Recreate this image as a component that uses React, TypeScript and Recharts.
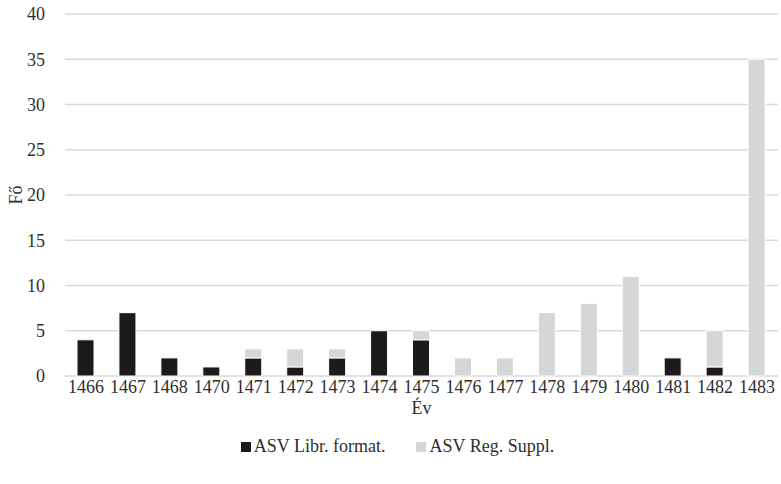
import { Bar, BarChart, CartesianGrid, Legend, XAxis, YAxis } from 'recharts'

const years = ['1466', '1467', '1468', '1470', '1471', '1472', '1473', '1474', '1475', '1476', '1477', '1478', '1479', '1480', '1481', '1482', '1483']
const librFormat = [4, 7, 2, 1, 2, 1, 2, 5, 4, 0, 0, 0, 0, 0, 2, 1, 0]
const regSuppl = [0, 0, 0, 0, 1, 2, 1, 0, 1, 2, 2, 7, 8, 11, 0, 4, 35]
const yTicks = [0, 5, 10, 15, 20, 25, 30, 35, 40]
const seriesNames = ['ASV Libr. format.', 'ASV Reg. Suppl.']
const seriesColors = ['#1c1a1a', '#d5d6d7']

const data = years.map((y, i) => ({ year: y, libr: librFormat[i], reg: regSuppl[i] }))

const FONT = '"Liberation Serif", "Times New Roman", serif'
const TEXT = '#2e2e2e'
const FS = 18

function LegendRow() {
  return (
    <div style={{ display: 'flex', justifyContent: 'center', gap: 31, paddingTop: 10, paddingLeft: 17, fontFamily: FONT, fontSize: 18, color: TEXT }}>
      {seriesNames.map((n, i) => (
        <span key={n} style={{ display: 'flex', alignItems: 'center', gap: 3 }}>
          <span style={{ width: 10, height: 10, background: seriesColors[i], display: 'inline-block' }} />
          {n}
        </span>
      ))}
    </div>
  )
}

export default function App() {
  return (
    <div style={{ position: 'absolute', left: 0, top: 0, width: 781, height: 484, background: '#fff', fontFamily: FONT }}>
      <BarChart width={781} height={484} data={data} margin={{ top: 14, right: 3, left: 0, bottom: 18 }} barSize={17}>
        <CartesianGrid vertical={false} stroke="#d9d9d9" strokeWidth={1.5} />
        <XAxis
          dataKey="year"
          axisLine={false}
          tickLine={false}
          height={50}
          interval={0}
          tick={{ fill: TEXT, fontSize: FS, fontFamily: FONT }}
          tickMargin={-2}
          label={{ value: 'Év', position: 'insideBottom', offset: 12, fill: TEXT, fontSize: FS, fontFamily: FONT }}
        />
        <YAxis
          domain={[0, 40]}
          ticks={yTicks}
          axisLine={false}
          tickLine={false}
          width={65}
          tick={{ fill: TEXT, fontSize: FS, fontFamily: FONT }}
          tickMargin={14}
          label={{ value: 'Fő', angle: -90, position: 'insideLeft', offset: 16, textAnchor: 'middle', fill: TEXT, fontSize: FS, fontFamily: FONT }}
        />
        <Legend verticalAlign="bottom" height={40} content={() => <LegendRow />} />
        <Bar dataKey="libr" name={seriesNames[0]} stackId="a" fill={seriesColors[0]} stroke="#fff" strokeWidth={1} isAnimationActive={false} />
        <Bar dataKey="reg" name={seriesNames[1]} stackId="a" fill={seriesColors[1]} stroke="#fff" strokeWidth={1} isAnimationActive={false} />
      </BarChart>
    </div>
  )
}
